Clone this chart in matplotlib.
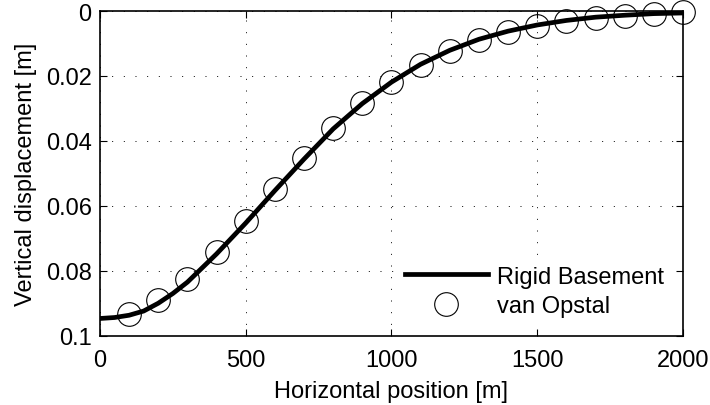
import matplotlib
matplotlib.use('Agg')
import matplotlib.pyplot as plt

plt.rcParams['font.family'] = ['Liberation Sans', 'DejaVu Sans']

# Rigid Basement (solid line)
line_x = [0, 50, 100, 150, 200, 250, 300, 400, 500, 600, 700, 800, 900, 1000,
          1100, 1200, 1300, 1400, 1500, 1600, 1700, 1800, 1900, 2000]
line_y = [0.0947, 0.0944, 0.0937, 0.0924, 0.0900, 0.0870, 0.0835, 0.0748,
          0.0653, 0.0553, 0.0456, 0.0363, 0.0285, 0.0219, 0.0164, 0.0121,
          0.0087, 0.0062, 0.0043, 0.0029, 0.0019, 0.0013, 0.0008, 0.0006]

# van Opstal (circles)
circ_x = [100, 200, 300, 400, 500, 600, 700, 800, 900, 1000,
          1100, 1200, 1300, 1400, 1500, 1600, 1700, 1800, 1900, 2000]
circ_y = [0.0933, 0.0890, 0.0826, 0.0743, 0.0648, 0.0548, 0.0453, 0.0360,
          0.0284, 0.0220, 0.0165, 0.0122, 0.0088, 0.0064, 0.0045, 0.0030,
          0.0020, 0.0014, 0.0009, 0.0004]

xticks = [0, 500, 1000, 1500, 2000]
yticks = [0, 0.02, 0.04, 0.06, 0.08, 0.1]
ytick_labels = ['0', '0.02', '0.04', '0.06', '0.08', '0.1']

fig = plt.figure(figsize=(7.1, 4.06), dpi=100)
ax = fig.add_axes([0.1408, 0.1707, 0.8212, 0.7997])

ax.plot(line_x, line_y, color='black', lw=3.4, label='Rigid Basement')
ax.plot(circ_x, circ_y, 'o', mfc='none', mec='black', ms=17, mew=0.8,
        label='van Opstal', clip_on=False)

ax.set_xlim(0, 2000)
ax.set_ylim(0.1, 0)
ax.set_xticks(xticks)
ax.set_yticks(yticks)
ax.set_yticklabels(ytick_labels)
ax.tick_params(direction='in', top=True, right=True, labelsize=17,
               length=5, width=0.8, pad=6)
ax.tick_params(axis='x', pad=9.5)
for s in ax.spines.values():
    s.set_linewidth(1.2)

ax.grid(True, linestyle=(0, (1, 11)), color='black', lw=0.7)

ax.set_xlabel('Horizontal position [m]', fontsize=17, labelpad=6.5)
ax.set_ylabel('Vertical displacement [m]', fontsize=17, labelpad=6)

leg = ax.legend(loc='lower right', fontsize=17, frameon=True, fancybox=False,
                handlelength=3.5, handletextpad=0.4, labelspacing=0.3,
                borderaxespad=0.4)
leg.get_frame().set_edgecolor('white')
leg.get_frame().set_alpha(1)

fig.savefig('out.png', dpi=100)
